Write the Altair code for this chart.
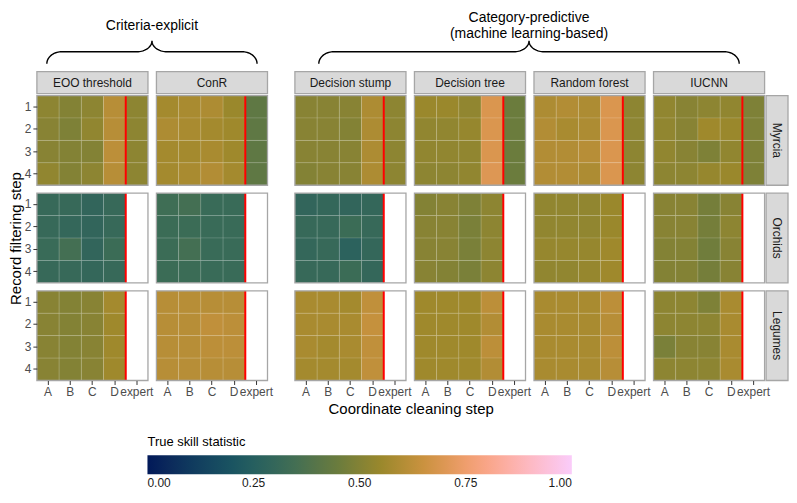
import altair as alt
import pandas as pd
import numpy as np

# ---------------- data ----------------
species = ["Myrcia", "Orchids", "Legumes"]
methods = ["EOO threshold", "ConR", "Decision stump", "Decision tree", "Random forest", "IUCNN"]
clean_steps = ["A", "B", "C", "D", "expert"]
filter_steps = [1, 2, 3, 4]

# rows = record filtering step 1..4, columns = cleaning step A..D
myrcia_eoo = [[.52, .50, .52, .61], [.51, .49, .53, .61], [.51, .50, .50, .62], [.53, .50, .52, .61]]
myrcia_conr = [[.57, .58, .59, .55], [.59, .58, .57, .56], [.57, .57, .58, .56], [.57, .58, .60, .57]]
myrcia_stump = [[.51, .51, .51, .59], [.51, .51, .50, .59], [.51, .51, .51, .59], [.50, .51, .51, .59]]
myrcia_tree = [[.55, .55, .53, .69], [.53, .53, .54, .69], [.53, .53, .53, .69], [.52, .52, .53, .70]]
myrcia_rf = [[.59, .60, .59, .69], [.60, .58, .59, .69], [.60, .60, .61, .69], [.60, .60, .59, .69]]
myrcia_iucnn = [[.53, .51, .52, .53], [.53, .51, .56, .55], [.53, .51, .49, .53], [.52, .52, .54, .55]]
myrcia_expert = [.52, .42, .52, .45, .52, .49]

orchids_eoo = [[.31, .31, .29, .31], [.31, .30, .29, .31], [.32, .35, .29, .33], [.31, .31, .30, .31]]
orchids_conr = [[.34, .35, .32, .32], [.33, .33, .32, .32], [.33, .35, .32, .32], [.33, .33, .32, .32]]
orchids_stump = [[.29, .30, .29, .30], [.31, .31, .33, .31], [.30, .31, .27, .30], [.31, .31, .33, .30]]
orchids_tree = [[.50, .51, .49, .52], [.51, .51, .48, .52], [.51, .51, .48, .52], [.51, .50, .48, .52]]
orchids_rf = [[.53, .53, .53, .55], [.53, .53, .53, .55], [.54, .54, .54, .56], [.53, .53, .54, .56]]
orchids_iucnn = [[.51, .51, .47, .51], [.51, .51, .47, .52], [.50, .50, .46, .51], [.50, .50, .47, .51]]

legumes_eoo = [[.51, .50, .51, .57], [.51, .50, .51, .56], [.51, .50, .51, .56], [.51, .50, .51, .56]]
legumes_conr = [[.61, .61, .61, .61], [.61, .61, .63, .62], [.61, .61, .62, .62], [.61, .61, .61, .61]]
legumes_stump = [[.58, .58, .57, .63], [.58, .58, .58, .64], [.58, .57, .58, .63], [.57, .57, .57, .63]]
legumes_tree = [[.56, .56, .56, .62], [.56, .56, .56, .60], [.56, .56, .56, .62], [.56, .56, .56, .60]]
legumes_rf = [[.58, .58, .58, .62], [.58, .58, .58, .61], [.58, .58, .58, .62], [.58, .58, .58, .61]]
legumes_iucnn = [[.52, .52, .49, .58], [.52, .52, .52, .58], [.48, .51, .51, .58], [.52, .52, .52, .58]]

group_labels = ["Criteria-explicit", "Category-predictive", "(machine learning-based)"]
x_title = "Coordinate cleaning step"
y_title = "Record filtering step"
legend_title = "True skill statistic"
legend_values = [0.0, 0.25, 0.5, 0.75, 1.0]
batlow = ["#011959", "#0F3D5E", "#1C5A62", "#3C6D56", "#687B3E",
          "#9D892B", "#D29343", "#F8A17B", "#FDB7BC", "#FACCFA"]

tables = {
    "Myrcia": [myrcia_eoo, myrcia_conr, myrcia_stump, myrcia_tree, myrcia_rf, myrcia_iucnn],
    "Orchids": [orchids_eoo, orchids_conr, orchids_stump, orchids_tree, orchids_rf, orchids_iucnn],
    "Legumes": [legumes_eoo, legumes_conr, legumes_stump, legumes_tree, legumes_rf, legumes_iucnn],
}
experts = {"Myrcia": myrcia_expert}

rows = []
for sp in species:
    for mi, m in enumerate(methods):
        g = tables[sp][mi]
        for i, f in enumerate(filter_steps):
            for j, c in enumerate(clean_steps[:4]):
                rows.append(dict(species=sp, method=m, filt=f, clean=c, tss=g[i][j]))
            if sp in experts:
                rows.append(dict(species=sp, method=m, filt=f, clean="expert", tss=experts[sp][mi]))
df = pd.DataFrame(rows)

# ---------------- layout ----------------
PW, PH = 111.5, 90
SP, GAP = 8, 27
STRIP_GAP, STRIP = 1.5, 22
HEAD_H, HEAD_GAP = 22, 2
GA_W = 2 * PW + SP
GB_W = 4 * PW + 3 * SP
GW = GA_W + GAP + GB_W + STRIP_GAP + STRIP
FONT = "Liberation Sans"
BORDER = "#a6a6a6"
STRIP_FILL = "#d9d9d9"

color_scale = alt.Scale(domain=list(np.linspace(0, 1, len(batlow))), range=batlow, interpolate="lab")
legend = alt.Legend(
    orient="none", legendX=111, legendY=342, direction="horizontal",
    title=legend_title, values=legend_values, format=".2f",
    gradientLength=426, gradientThickness=19, gradientStrokeWidth=0,
    labelAlign="center", labelFontSize=12, labelColor="#1a1a1a", labelOffset=4,
    titleFontSize=13, titleFontWeight="normal", titleColor="black", titlePadding=6,
)
x_scale = alt.Scale(domain=clean_steps, paddingInner=0, paddingOuter=0)
y_scale = alt.Scale(domain=filter_steps, paddingInner=0, paddingOuter=0)
one = pd.DataFrame({"a": [0]})


def box(x0, x1, y0, y1, fill):
    return alt.Chart(one).mark_rect(fill=fill, stroke=BORDER, strokeWidth=1.3).encode(
        x=alt.value(x0), x2=alt.value(x1), y=alt.value(y0), y2=alt.value(y1))


def label(text, x, y, size=12, color="#1a1a1a", angle=0):
    return alt.Chart(pd.DataFrame({"label": [text]})).mark_text(
        fontSize=size, color=color, font=FONT, angle=angle).encode(
        text="label:N", x=alt.value(x), y=alt.value(y))


def brace_df(x0, x1, y_end, y_flat, y_tip, r):
    xc = (x0 + x1) / 2
    t = np.linspace(0, np.pi / 2, 20)
    t2 = t[::-1]
    xs = list(x0 + r * (1 - np.cos(t))) + list(xc - r + r * np.sin(t)) \
        + list(xc + r - r * np.sin(t2)) + list(x1 - r * (1 - np.cos(t2)))
    ys = list(y_end - (y_end - y_flat) * np.sin(t)) + list(y_flat - (y_flat - y_tip) * (1 - np.cos(t))) \
        + list(y_flat - (y_flat - y_tip) * (1 - np.cos(t2))) + list(y_end - (y_end - y_flat) * np.sin(t2))
    return pd.DataFrame({"x": xs, "y": ys, "i": range(len(xs))})


def brace(x0, x1):
    return alt.Chart(brace_df(x0, x1, -32, -44, -55, 15)).mark_line(color="black", strokeWidth=1.4).encode(
        x=alt.X("x:Q", scale=None, axis=None), y=alt.Y("y:Q", scale=None, axis=None), order="i:Q")


def panel(sp, m, ri, ci):
    d = df[(df.species == sp) & (df.method == m)]
    xaxis = alt.Axis(title=None, labelAngle=0) if ri == 2 else None
    if ci == 0:
        yaxis = alt.Axis(title=y_title if ri == 1 else None, titlePadding=1)
    else:
        yaxis = None
    layers = [
        alt.Chart(d).mark_rect(stroke="white", strokeWidth=0.6, strokeOpacity=0.2).encode(
            x=alt.X("clean:N", scale=x_scale, axis=xaxis),
            y=alt.Y("filt:O", scale=y_scale, axis=yaxis),
            color=alt.Color("tss:Q", scale=color_scale, legend=legend),
        ),
        alt.Chart(pd.DataFrame({"clean": ["expert"]})).mark_rule(color="#ff0000", strokeWidth=2).encode(
            x=alt.X("clean:N", scale=x_scale, axis=xaxis, bandPosition=0),
        ),
        alt.Chart(one).mark_rect(filled=False, stroke=BORDER, strokeWidth=1.3).encode(
            x=alt.value(0), x2=alt.value(PW), y=alt.value(0), y2=alt.value(PH)),
    ]
    if ri == 0:  # column strip
        layers += [box(0, PW, -HEAD_H - HEAD_GAP, -HEAD_GAP, STRIP_FILL),
                   label(m, PW / 2, -HEAD_GAP - HEAD_H / 2)]
    if ci == 5:  # row strip
        layers += [box(PW + STRIP_GAP, PW + STRIP_GAP + STRIP, 0, PH, STRIP_FILL),
                   label(sp, PW + STRIP_GAP + STRIP / 2, PH / 2, angle=90)]
    if ri == 0 and ci == 0:  # brace + label for group A
        layers += [brace(10, GA_W - 10), label(group_labels[0], GA_W / 2, -70, 14, "black")]
    if ri == 0 and ci == 2:  # brace + labels for group B
        layers += [brace(24, GB_W - 24), label(group_labels[1], GB_W / 2, -78, 14, "black"),
                   label(group_labels[2], GB_W / 2, -62, 14, "black")]
    if ri == 2 and ci == 0:  # x axis title, centred on the panel block
        layers += [label(x_title, GW / 2, PH + 29, 15, "black")]
    return alt.layer(*layers).properties(width=PW, height=PH)


spacer = alt.Chart(one).mark_point(opacity=0).encode(x=alt.value(0), y=alt.value(0)).properties(
    width=GAP - 2 * SP, height=PH)

items = []
for ri, sp in enumerate(species):
    for ci, m in enumerate(methods):
        if ci == 2:
            items.append(spacer)
        items.append(panel(sp, m, ri, ci))

chart = alt.concat(*items, columns=7, spacing=SP, bounds="flush", align="each").properties(
    padding={"top": 2, "left": 0, "right": 0, "bottom": 0}
).configure(font=FONT).configure_view(strokeWidth=0).configure_axis(
    grid=False, domain=False, labelFontSize=12, labelColor="#4d4d4d", tickColor="#333333",
    tickSize=4, labelPadding=2, titleFontSize=15, titleFontWeight="normal", titleColor="black",
    labelFont=FONT, titleFont=FONT,
)

chart.save("out.html", embed_options={"renderer": "svg", "actions": False})
